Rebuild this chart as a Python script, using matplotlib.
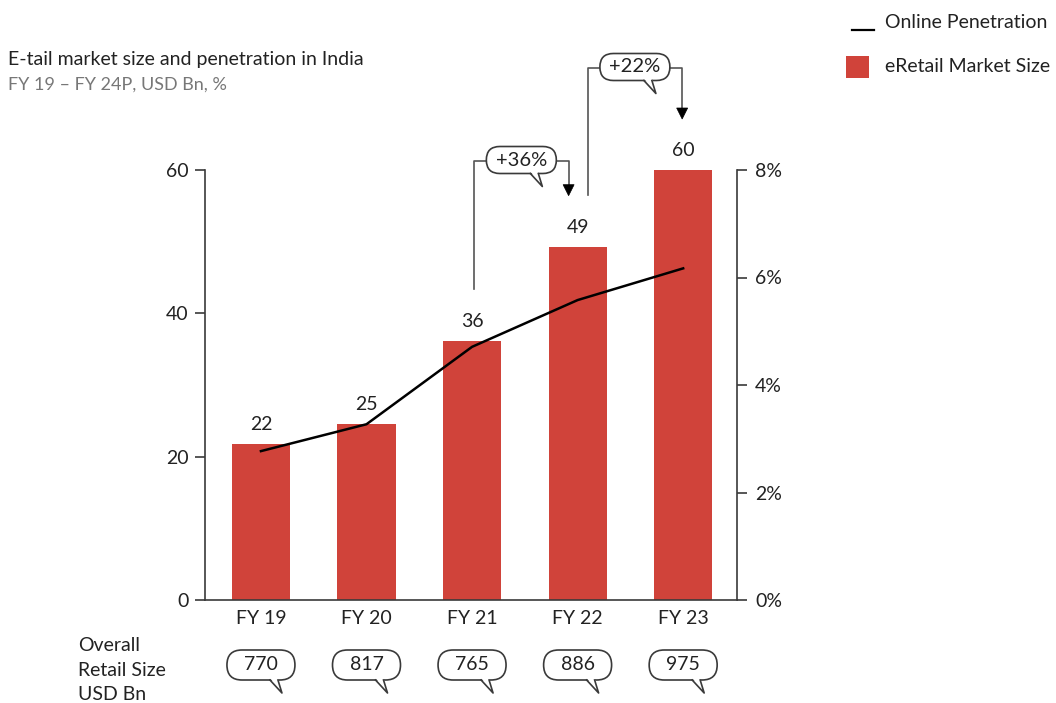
import matplotlib.pyplot as plt
from matplotlib.patches import FancyBboxPatch, Polygon, Rectangle
from matplotlib.ticker import FuncFormatter

# data
years = ["FY 19", "FY 20", "FY 21", "FY 22", "FY 23"]
market_size = [21.8, 24.5, 36.1, 49.3, 60.0]
market_labels = ["22", "25", "36", "49", "60"]
penetration = [2.77, 3.27, 4.71, 5.58, 6.17]
retail_size = [770, 817, 765, 886, 975]
growth_labels = ["+36%", "+22%"]
growth_from = [2, 3]
growth_to = [3, 4]

W, H = 1056, 703
BAR = "#d0433a"
EDGE = "#3a3a3a"
plt.rcParams["font.family"] = ["Lato", "DejaVu Sans"]

fig = plt.figure(figsize=(W / 100, H / 100), dpi=100)
ax = fig.add_axes([205 / W, 103 / H, 532 / W, 430 / H])
ax2 = ax.twinx()

x = list(range(len(years)))
ax.bar(x, market_size, width=0.55, color=BAR, zorder=2)
for xi, v, lab in zip(x, market_size, market_labels):
    ax.annotate(lab, (xi, v), xytext=(0, 8), textcoords="offset points",
                ha="center", va="bottom", fontsize=14, color="#222")

ax2.plot(x, penetration, color="black", lw=1.8, zorder=3)

ax.set_xlim(-0.53, 4.51)
ax.set_ylim(0, 60)
ax2.set_ylim(0, 8)
ax.set_yticks([0, 20, 40, 60])
ax2.set_yticks([0, 2, 4, 6, 8])
ax2.yaxis.set_major_formatter(FuncFormatter(lambda v, _: f"{v:.0f}%"))
ax.set_xticks(x)
ax.set_xticklabels(years)

for a in (ax, ax2):
    for s in a.spines.values():
        s.set_color(EDGE)
        s.set_linewidth(1.2)
    a.spines["top"].set_visible(False)
ax.spines["right"].set_visible(False)
ax2.spines["left"].set_visible(False)
ax2.spines["bottom"].set_visible(False)
ax.tick_params(axis="y", length=7, width=1.2, color=EDGE, labelsize=14, pad=5, labelcolor="#222")
ax.tick_params(axis="x", length=0, labelsize=14, pad=7, labelcolor="#222")
ax2.tick_params(axis="y", length=7, width=1.2, color=EDGE, labelsize=14, pad=6, labelcolor="#222")

# overlay in pixel coordinates (y down) for bubbles, brackets and legend
ov = fig.add_axes([0, 0, 1, 1], zorder=10)
ov.set_xlim(0, W)
ov.set_ylim(H, 0)
ov.axis("off")


def to_px(a, xd, yd):
    dx, dy = a.transData.transform((xd, yd))
    return dx, H - dy


def bubble(cx, cy, text, w, h, fs):
    ov.add_patch(FancyBboxPatch((cx - w / 2, cy - h / 2), w, h,
                                boxstyle=f"round,pad=0,rounding_size={h / 2}",
                                fc="white", ec=EDGE, lw=1.2, zorder=5))
    yb = cy + h / 2
    b1, b2, tip = (cx + 9, yb), (cx + 17, yb), (cx + 21, yb + 13)
    ov.add_patch(Polygon([(b1[0], yb - 2), (b2[0], yb - 2), tip], closed=True,
                         fc="white", ec="none", zorder=6))
    ov.plot([b1[0], tip[0], b2[0]], [b1[1], tip[1], b2[1]], color=EDGE, lw=1.2, zorder=7)
    ov.text(cx, cy, text, ha="center", va="center", fontsize=fs, color="#222", zorder=8)


# bottom retail size bubbles
for xi, val in zip(x, retail_size):
    px, _ = to_px(ax, xi, 0)
    bubble(px, 665, str(val), 68, 30, 14)

ov.text(78, 670, "Overall\nRetail Size\nUSD Bn", ha="left", va="center",
        fontsize=14, color="#222", linespacing=1.55)

# growth brackets
levels = [161, 68]
shift_l = [2, 10]
shift_r = [-9, -1]
for k, lab in enumerate(growth_labels):
    i, j = growth_from[k], growth_to[k]
    xl, yl = to_px(ax, i, market_size[i])
    xr, yr = to_px(ax, j, market_size[j])
    xl += shift_l[k]
    xr += shift_r[k]
    lvl = levels[k]
    ov.plot([xl, xl, xr, xr], [yl - 52, lvl, lvl, yr - 62], color="#555", lw=1.2, zorder=4)
    ov.add_patch(Polygon([(xr - 5.5, yr - 62), (xr + 5.5, yr - 62), (xr, yr - 51)],
                         closed=True, fc="black", ec="black", lw=0.5, zorder=4))
    bubble((xl + xr) / 2, lvl - 1, lab, 70, 27, 14.5)

# titles
ov.text(8, 60, "E-tail market size and penetration in India", ha="left", va="center",
        fontsize=14, color="#222")
ov.text(8, 85, "FY 19 \u2013 FY 24P, USD Bn, %", ha="left", va="center",
        fontsize=13, color="#777")

# legend
ov.plot([852, 874], [30, 30], color="black", lw=1.6)
ov.text(885, 22, "Online Penetration", ha="left", va="center", fontsize=14, color="#222")
ov.add_patch(Rectangle((846, 56), 23, 22, fc=BAR, ec="none"))
ov.text(885, 66, "eRetail Market Size", ha="left", va="center", fontsize=14, color="#222")

fig.savefig("out.png", dpi=100)
